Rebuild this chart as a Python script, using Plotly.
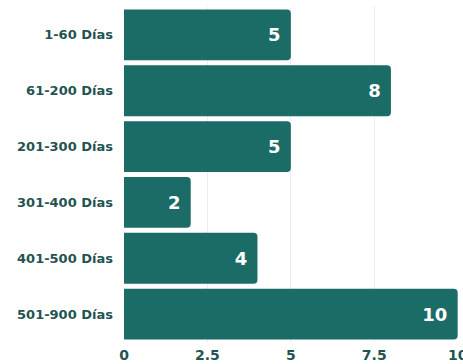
import plotly.graph_objects as go

categories = ["1-60 Días", "61-200 Días", "201-300 Días", "301-400 Días", "401-500 Días", "501-900 Días"]
values = [5, 8, 5, 2, 4, 10]
tick_vals = [0, 2.5, 5, 7.5, 10]
tick_text = ["0", "2.5", "5", "7.5", "10"]

bar_color = "#1b6b66"
label_color = "#1f5451"
font_family = "DejaVu Sans"

fig = go.Figure(go.Bar(
    y=categories,
    x=values,
    orientation="h",
    marker=dict(color=bar_color, line=dict(width=0)),
    text=[str(v) for v in values],
    texttemplate="%{text}\u00a0",
    textposition="inside",
    insidetextanchor="end",
    textfont=dict(family=font_family, size=18, color="white", weight="bold"),
    cliponaxis=False,
))

fig.update_layout(
    width=463, height=364,
    margin=dict(l=124, r=5, t=7, b=22, autoexpand=False),
    paper_bgcolor="white",
    plot_bgcolor="white",
    bargap=0.09,
    barcornerradius=4,
    showlegend=False,
    xaxis=dict(
        range=[0, 10.01],
        tickvals=tick_vals,
        ticktext=tick_text,
        showgrid=True,
        gridcolor="#ececec",
        gridwidth=1,
        zeroline=False,
        showline=False,
        automargin=False,
        tickfont=dict(family=font_family, size=14, color=label_color, weight="bold"),
        ticks="",
        ticklen=0,
        ticklabelstandoff=3,
        ticklabeloverflow="allow",
    ),
    yaxis=dict(
        categoryorder="array",
        categoryarray=categories[::-1],
        showgrid=False,
        zeroline=False,
        showline=False,
        automargin=False,
        ticks="",
        ticklabelstandoff=10,
        tickfont=dict(family=font_family, size=13, color=label_color, weight="bold"),
    ),
)

fig.write_html("out.html")
